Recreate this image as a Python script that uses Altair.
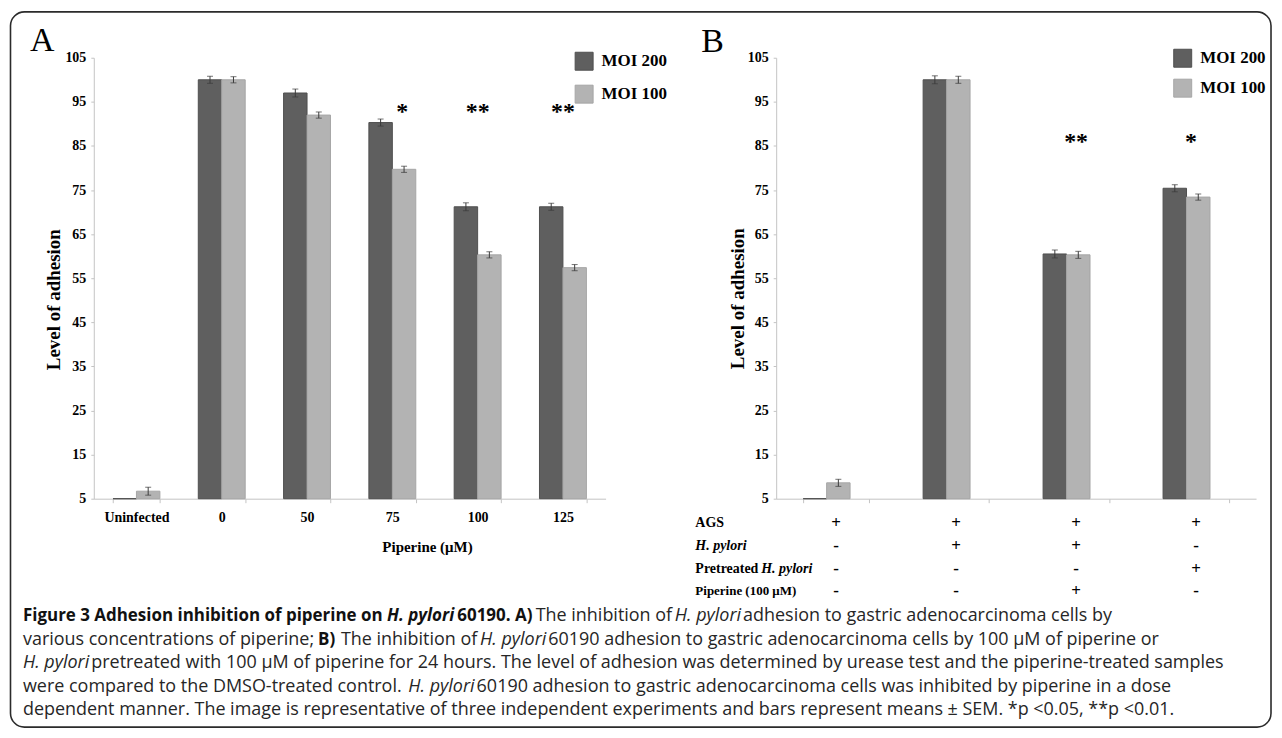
import altair as alt
import pandas as pd

# ---------------- data ----------------
SERIES = ["MOI 200", "MOI 100"]

A_CATS = ["Uninfected", "0", "50", "75", "100", "125"]
A_MOI200 = [5.0, 100.0, 97.0, 90.3, 71.2, 71.2]
A_MOI200_ERR = [0.0, 0.8, 0.9, 0.8, 0.9, 0.8]
A_MOI100 = [6.7, 100.0, 92.0, 79.7, 60.3, 57.4]
A_MOI100_ERR = [0.9, 0.7, 0.7, 0.7, 0.7, 0.7]
A_STARS = ["", "", "", "*", "**", "**"]
A_STAR_LEVEL = 92.6

B_CATS = ["c1", "c2", "c3", "c4"]
B_MOI200 = [5.0, 100.0, 60.5, 75.4]
B_MOI200_ERR = [0.0, 0.9, 0.9, 0.8]
B_MOI100 = [8.6, 100.0, 60.3, 73.4]
B_MOI100_ERR = [0.8, 0.8, 0.8, 0.7]
B_STARS = ["", "", "**", "*"]
B_STAR_LEVEL = 86.0

TABLE_ROWS = ["AGS", "H. pylori", "Pretreated H. pylori", "Piperine (100 μM)"]
TABLE_SIGNS = [
    ["+", "+", "+", "+"],
    ["-", "+", "+", "-"],
    ["-", "-", "-", "+"],
    ["-", "-", "+", "-"],
]

Y_TICKS = [5, 15, 25, 35, 45, 55, 65, 75, 85, 95, 105]

CAPTION_LINES = [
    [("Figure 3 Adhesion inhibition of piperine on", "b"), ("H. pylori", "bi"),
     ("60190. A)", "b"), ("The inhibition of", "r"), ("H. pylori", "i"),
     ("adhesion to gastric adenocarcinoma cells by", "r")],
    [("various concentrations of piperine;", "r"), ("B)", "b"),
     ("The inhibition of", "r"), ("H. pylori", "i"),
     ("60190 adhesion to gastric adenocarcinoma cells by 100 μM of piperine or", "r")],
    [("H. pylori", "i"),
     ("pretreated with 100 μM of piperine for 24 hours. The level of adhesion was determined by urease test and the piperine-treated samples", "r")],
    [("were compared to the DMSO-treated control.", "r"), ("H. pylori", "i"),
     ("60190 adhesion to gastric adenocarcinoma cells was inhibited by piperine in a dose", "r")],
    [("dependent manner. The image is representative of three independent experiments and bars represent means ± SEM. *p <0.05, **p <0.01.", "r")],
]

SERIF = "Liberation Serif"
SANS = "Open Sans"
DARK = "#5f5f5f"
LIGHT = "#b3b3b3"
AXIS_GRAY = "#c4c4c4"


def make_df(cats, v200, e200, v100, e100):
    rows = []
    for s, vals, errs in (("MOI 200", v200, e200), ("MOI 100", v100, e100)):
        for c, v, e in zip(cats, vals, errs):
            rows.append({"cat": c, "series": s, "value": v, "err": e,
                         "lo": v - e, "hi": v + e})
    return pd.DataFrame(rows)


def panel(cats, df, stars, star_level, xaxis, ytitle_x, ytitle_y,
          legend_x, legend_y, legend_rowpad):
    xscale = alt.Scale(domain=cats, paddingInner=0.45, paddingOuter=0.225)
    x = alt.X("cat:N", sort=cats, scale=xscale, axis=xaxis)
    xo = alt.XOffset("series:N", sort=SERIES,
                     scale=alt.Scale(domain=SERIES, paddingInner=0, paddingOuter=0))
    yscale = alt.Scale(domain=[5, 105], nice=False, zero=False)
    yaxis = alt.Axis(values=Y_TICKS, grid=False, title="Level of adhesion",
                     titleFont=SERIF, titleFontSize=19, titleFontWeight="bold",
                     titleColor="black", titleX=ytitle_x, titleY=ytitle_y,
                     titleAlign="center", titleBaseline="middle", titleAngle=-90,
                     labelFont=SERIF, labelFontSize=14, labelFontWeight="bold",
                     labelColor="black", labelPadding=5, tickSize=3,
                     tickColor=AXIS_GRAY, domainColor=AXIS_GRAY)
    base = alt.Chart(df)
    bars = base.mark_bar(strokeWidth=1).encode(
        x=x, xOffset=xo,
        y=alt.Y("value:Q", scale=yscale, axis=yaxis),
        y2=alt.Y2Datum(5),
        color=alt.Color("series:N", sort=SERIES,
                        scale=alt.Scale(domain=SERIES, range=[DARK, LIGHT]),
                        legend=alt.Legend(orient="none", legendX=legend_x,
                                          legendY=legend_y, title=None,
                                          symbolType="square", symbolSize=324,
                                          symbolStrokeColor="#7a7a7a",
                                          symbolStrokeWidth=1,
                                          labelFont=SERIF, labelFontSize=17,
                                          labelFontWeight="bold",
                                          labelColor="black", labelOffset=8,
                                          rowPadding=legend_rowpad, padding=0)),
        stroke=alt.Stroke("series:N", sort=SERIES,
                          scale=alt.Scale(domain=SERIES, range=["#4f4f4f", "#a6a6a6"]),
                          legend=None),
    )
    eb = base.transform_filter("datum.err > 0")
    rule = eb.mark_rule(color="#3a3a3a", strokeWidth=1).encode(
        x=x, xOffset=xo, y=alt.Y("lo:Q", scale=yscale), y2="hi:Q")
    cap_hi = eb.mark_tick(color="#3a3a3a", thickness=1, size=6).encode(
        x=x, xOffset=xo, y=alt.Y("hi:Q", scale=yscale))
    cap_lo = eb.mark_tick(color="#3a3a3a", thickness=1, size=6).encode(
        x=x, xOffset=xo, y=alt.Y("lo:Q", scale=yscale))
    sdf = pd.DataFrame({"cat": cats, "star": stars, "level": star_level})
    star_base = alt.Chart(sdf)
    star2 = star_base.transform_filter("datum.star == '**'").mark_text(
        font=SERIF, fontSize=24, fontWeight="bold", color="black",
        baseline="middle").encode(x=x, y=alt.Y("level:Q", scale=yscale),
                                  text="star:N")
    return bars, rule, cap_hi, cap_lo, star2, star_base, x, yscale


# ---------------- panel A ----------------
dfA = make_df(A_CATS, A_MOI200, A_MOI200_ERR, A_MOI100, A_MOI100_ERR)
xaxisA = alt.Axis(title="Piperine (μM)", labelAngle=0, tickBand="extent",
                  tickSize=4, tickColor=AXIS_GRAY, domainColor=AXIS_GRAY,
                  labelFont=SERIF, labelFontSize=14, labelFontWeight="bold",
                  labelColor="black", labelPadding=8,
                  titleFont=SERIF, titleFontSize=15, titleFontWeight="bold",
                  titleColor="black", titleX=334, titleY=48,
                  titleAlign="center", titleBaseline="middle")
WA = 513
H = 442
bA, rA, chA, clA, s2A, sbA, xA, ysA = panel(A_CATS, dfA, A_STARS, A_STAR_LEVEL,
                                          xaxisA, -40, 242, 482, -6, 10)
s1A = sbA.transform_filter("datum.star == '*'").mark_text(
    font=SERIF, fontSize=24, fontWeight="bold", color="black", baseline="middle",
    dx=10).encode(x=xA, y=alt.Y("level:Q", scale=ysA), text="star:N")
labA = alt.Chart(pd.DataFrame({"t": ["A"]})).mark_text(
    font=SERIF, fontSize=34, color="black", align="left", baseline="alphabetic"
).encode(x=alt.value(-64), y=alt.value(-7), text="t:N")
chartA = alt.layer(bA, rA, chA, clA, s2A, s1A, labA).properties(width=WA, height=H)

# ---------------- panel B ----------------
dfB = make_df(B_CATS, B_MOI200, B_MOI200_ERR, B_MOI100, B_MOI100_ERR)
xaxisB = alt.Axis(title=None, labels=False, tickBand="extent", tickSize=4,
                  tickColor=AXIS_GRAY, domainColor=AXIS_GRAY)
WB = 481
bB, rB, chB, clB, s2B, sbB, xB, ysB = panel(B_CATS, dfB, B_STARS, B_STAR_LEVEL,
                                          xaxisB, -39, 241, 398, -9, 7)
s1B = sbB.transform_filter("datum.star == '*'").mark_text(
    font=SERIF, fontSize=24, fontWeight="bold", color="black", baseline="middle",
    dx=-5).encode(x=xB, y=alt.Y("level:Q", scale=ysB), text="star:N")
labB = alt.Chart(pd.DataFrame({"t": ["B"]})).mark_text(
    font=SERIF, fontSize=34, color="black", align="left", baseline="alphabetic"
).encode(x=alt.value(-75), y=alt.value(-6), text="t:N")

# table below panel B
row_y = [466, 489, 512, 535]
table_layers = []
for i, (label, signs) in enumerate(zip(TABLE_ROWS, TABLE_SIGNS)):
    tdf = pd.DataFrame({"cat": B_CATS, "sign": signs})
    table_layers.append(alt.Chart(tdf).mark_text(
        font=SERIF, fontSize=17, fontWeight="bold", color="black",
        baseline="middle").encode(x=xB, y=alt.value(row_y[i]), text="sign:N"))

lab_df = pd.DataFrame({"t": [0]})
def row_label(text, x, y, size=14, italic=False):
    return alt.Chart(lab_df).mark_text(
        text=text, font=SERIF, fontSize=size, fontWeight="bold",
        fontStyle="italic" if italic else "normal", color="black",
        align="left", baseline="middle").encode(x=alt.value(x), y=alt.value(y))

rl = [
    row_label(TABLE_ROWS[0], -81, row_y[0]),
    row_label(TABLE_ROWS[1], -81, row_y[1], italic=True),
    row_label(TABLE_ROWS[2].split(" ", 1)[0], -81, row_y[2]),
    row_label(TABLE_ROWS[2].split(" ", 1)[1], -15, row_y[2], italic=True),
    row_label(TABLE_ROWS[3], -81, row_y[3], size=13),
]
chartB = alt.layer(bB, rB, chB, clB, s2B, s1B, labB, *table_layers, *rl).properties(
    width=WB, height=H)

# ---------------- caption ----------------
CAP_X0 = 93          # page x of the caption view origin
CAP_Y0 = 600         # page y of the caption view origin
cap_df = pd.DataFrame({"k": [0]})
REG = 18.0
BOLD = 17.0
LINE_Y = [617, 641, 664, 688, 711]
# approximate rendered widths of the non-final segments (px at 17.5 regular /
# 16.5 bold), used only to chain the segments one after another
SEG_W = {
    ("Figure 3 Adhesion inhibition of piperine on", "b"): 350,
    ("H. pylori", "bi"): 64,
    ("60190. A)", "b"): 72,
    ("The inhibition of", "r"): 131,
    ("H. pylori", "i"): 62,
    ("various concentrations of piperine;", "r"): 283,
    ("B)", "b"): 18,
    ("were compared to the DMSO-treated control.", "r"): 371,
}


def seg(text, x, y, style="r"):
    bold = "b" in style
    ital = "i" in style
    return alt.Chart(cap_df).mark_text(
        text=text, font=SANS, fontSize=BOLD if bold else REG,
        fontWeight="bold" if bold else "normal",
        fontStyle="italic" if ital else "normal",
        color="#111111" if bold else "#262626",
        align="left", baseline="middle").encode(
        x=alt.value(x - CAP_X0), y=alt.value(y - CAP_Y0))


cap_layers = []
for line, y in zip(CAPTION_LINES, LINE_Y):
    xpos = 22.0
    for text, style in line:
        cap_layers.append(seg(text, xpos, y, style))
        if (text, style) in SEG_W:
            scale = BOLD / 16.5 if "b" in style else REG / 17.5
            space = 532 / 2048 * (BOLD if "b" in style else REG)
            xpos += SEG_W[(text, style)] * scale + space

border = alt.Chart(cap_df).mark_rect(
    filled=False, stroke="#2b2b2b", strokeWidth=1.6, cornerRadius=14
).encode(x=alt.value(9.5 - CAP_X0), x2=alt.value(1273 - CAP_X0),
         y=alt.value(11 - CAP_Y0), y2=alt.value(728 - CAP_Y0))

caption = alt.layer(border, *cap_layers).properties(width=1165, height=120)

top = alt.hconcat(chartA, chartB, spacing=171, bounds="flush").resolve_scale(
    color="independent", stroke="independent").resolve_legend(color="independent")

# in flush mode the nested hconcat counts as zero height, so the spacing
# covers the panel height (442) plus the gap to the caption (101)
chart = alt.vconcat(top, caption, spacing=H + 101, bounds="flush").properties(
    padding={"left": 1, "top": 2, "right": 2, "bottom": 2},
    background="white",
).configure_view(stroke=None, strokeWidth=0)

chart.save("out.html", embed_options={"renderer": "svg", "actions": False})
